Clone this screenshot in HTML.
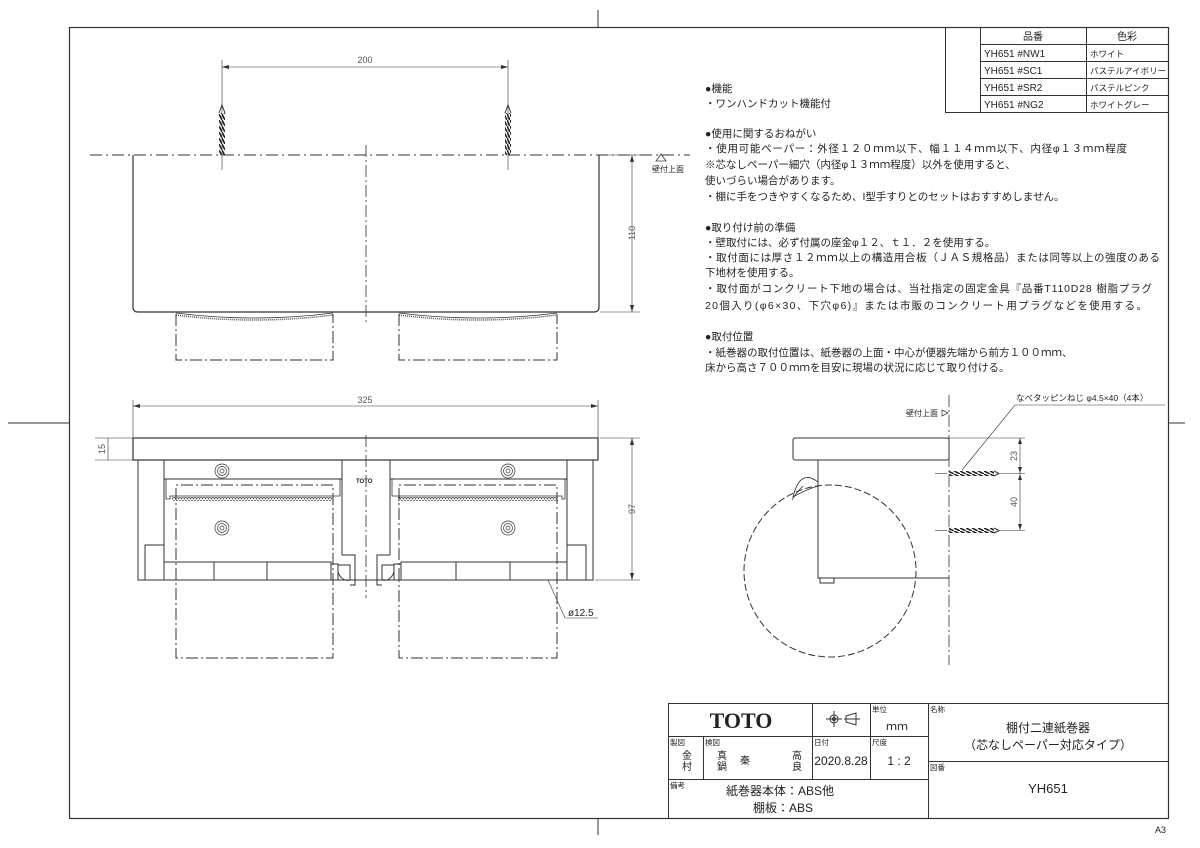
<!DOCTYPE html>
<html><head><meta charset="utf-8"><style>
html,body{margin:0;padding:0;background:#fff;}
svg{display:block;}
text{font-family:"Liberation Sans","Noto Sans CJK JP",sans-serif;fill:#222;}
</style></head><body>
<svg width="1200" height="848" viewBox="0 0 1200 848" xmlns="http://www.w3.org/2000/svg">
<defs>
<pattern id="thr" width="6" height="3" patternUnits="userSpaceOnUse"><path d="M0 0 L6 3" stroke="#222" stroke-width="1.6"/></pattern>
<pattern id="thv" width="3" height="6" patternUnits="userSpaceOnUse"><path d="M0 0 L3 6" stroke="#222" stroke-width="1.6"/></pattern>
<pattern id="ser" width="3" height="4" patternUnits="userSpaceOnUse"><path d="M0 0 L1.5 3 L3 0" stroke="#444" stroke-width="0.8" fill="none"/></pattern>
</defs>
<g fill="none" stroke="#333" stroke-width="1">
<!-- frame -->
<rect x="69.5" y="27.5" width="1099" height="791" stroke-width="1.2"/>
<line x1="598" y1="10" x2="598" y2="27"/><line x1="598" y1="818" x2="598" y2="835"/>
<line x1="8" y1="423" x2="69" y2="423"/><line x1="1168" y1="423" x2="1185" y2="423"/>
<!-- table -->
<rect x="945.5" y="27.5" width="223" height="85"/>
<line x1="980.5" y1="27" x2="980.5" y2="112"/><line x1="1086.5" y1="27" x2="1086.5" y2="112"/>
<line x1="980" y1="44.5" x2="1168" y2="44.5"/><line x1="980" y1="61.5" x2="1168" y2="61.5"/>
<line x1="980" y1="78.5" x2="1168" y2="78.5"/><line x1="980" y1="95.5" x2="1168" y2="95.5"/>
<!-- title block -->
<rect x="668.5" y="703.5" width="500" height="115"/>
<line x1="668" y1="736.5" x2="928" y2="736.5"/><line x1="668" y1="779.5" x2="928" y2="779.5"/>
<line x1="928" y1="761.5" x2="1168" y2="761.5"/>
<line x1="928.5" y1="703" x2="928.5" y2="818"/>
<line x1="812.5" y1="703" x2="812.5" y2="779"/><line x1="870.5" y1="703" x2="870.5" y2="779"/>
<line x1="703.5" y1="736" x2="703.5" y2="779"/>
<!-- projection symbol -->
<circle cx="834" cy="719" r="4"/><circle cx="834" cy="719" r="1.5"/>
<line x1="826" y1="719" x2="842" y2="719"/><line x1="834" y1="711" x2="834" y2="727"/>
<path d="M846 716 L856 713 L856 725 L846 722 Z"/><line x1="844" y1="719" x2="860" y2="719"/>

<!-- TOP VIEW -->
<line x1="90" y1="155" x2="690" y2="155" stroke-dasharray="12,4,2,4"/>
<path d="M133 155 L133 307 Q133 312 138 312 L594 312 Q599 312 599 307 L599 155" stroke-width="1.2"/>
<line x1="366" y1="145" x2="366" y2="325" stroke-dasharray="12,3,2,3" stroke-width="0.8"/>
<rect x="219" y="113" width="6" height="42" fill="url(#thv)" stroke="none"/>
<rect x="505" y="113" width="6" height="42" fill="url(#thv)" stroke="none"/>
<path d="M219 113 L222 105 L225 113"/><path d="M505 113 L508 105 L511 113"/>
<line x1="222" y1="60" x2="222" y2="170" stroke-width="0.6"/><line x1="508" y1="60" x2="508" y2="170" stroke-width="0.6"/>
<line x1="222" y1="67" x2="508" y2="67" stroke-width="0.6"/>
<path d="M222 67 l7 -2 v4 z M508 67 l-7 -2 v4 z" fill="#333" stroke="none"/>
<path d="M176 313 Q254 323 333 313 M399 313 Q478 323 557 313" stroke-width="0.8"/>
<path d="M176 315 Q254 325 333 315 M399 315 Q478 325 557 315" stroke-dasharray="1,1" stroke-width="1.5" stroke="#555"/>
<path d="M176 314 V360 H333 V314 M399 314 V360 H557 V314" stroke-dasharray="12,3,2,3"/>
<line x1="600" y1="155" x2="640" y2="155" stroke-width="0.6"/><line x1="600" y1="312" x2="640" y2="312" stroke-width="0.6"/>
<line x1="632" y1="155" x2="632" y2="312" stroke-width="0.6"/>
<path d="M632 155 l-2 7 h4 z M632 312 l-2 -7 h4 z" fill="#333" stroke="none"/>
<path d="M661 154 L656 161 L666 161 Z" stroke-width="0.8"/>

<!-- FRONT VIEW -->
<line x1="133" y1="400" x2="133" y2="438" stroke-width="0.6"/><line x1="598" y1="400" x2="598" y2="438" stroke-width="0.6"/>
<line x1="133" y1="406" x2="598" y2="406" stroke-width="0.6"/>
<path d="M133 406 l7 -2 v4 z M598 406 l-7 -2 v4 z" fill="#333" stroke="none"/>
<rect x="133" y="438" width="465" height="22" stroke-width="1.2"/>
<line x1="95" y1="438" x2="133" y2="438" stroke-width="0.6"/><line x1="95" y1="460" x2="133" y2="460" stroke-width="0.6"/>
<line x1="108" y1="438" x2="108" y2="460" stroke-width="0.6"/>
<path d="M138 460 V580 H593 V460"/>
<line x1="600" y1="438" x2="640" y2="438" stroke-width="0.6"/><line x1="595" y1="580" x2="640" y2="580" stroke-width="0.6"/>
<line x1="632" y1="438" x2="632" y2="580" stroke-width="0.6"/>
<path d="M632 438 l-2 7 h4 z M632 580 l-2 -7 h4 z" fill="#333" stroke="none"/>
<line x1="366" y1="435" x2="366" y2="598" stroke-dasharray="12,3,2,3" stroke-width="0.8"/>
<!-- left holder -->
<path d="M164 460 V580 M342 460 V555 M390 460 V555 M567 460 V580"/>
<path d="M164 479 H342 M390 479 H567"/>
<path d="M166 479 V499 H170 V496 H340 V479 M392 479 V496 H562 V499 H565 V479" stroke-width="0.8"/>
<rect x="172" y="497" width="160" height="4" fill="url(#ser)" stroke="none"/>
<rect x="398" y="497" width="160" height="4" fill="url(#ser)" stroke="none"/>
<path d="M176 580 V485 H333 V658 H176 V580 M399 580 V485 H557 V658 H399 V580" stroke-dasharray="12,3,2,3"/>
<rect x="145" y="545" width="19" height="35"/><rect x="567" y="545" width="19" height="35"/>
<rect x="164" y="562" width="167" height="18"/><rect x="401" y="562" width="166" height="18"/>
<line x1="214" y1="562" x2="214" y2="580"/><line x1="267" y1="562" x2="267" y2="580"/>
<line x1="456" y1="562" x2="456" y2="580"/><line x1="510" y1="562" x2="510" y2="580"/>
<path d="M331 564 h7 v16 h-7 z M394 564 h7 v16 h-7 z"/>
<path d="M338 565 H350 V580 Q342 582 338 572 Z M394 565 H382 V580 Q390 582 394 572 Z"/>
<path d="M342 555 H355 V585 H350 M390 555 H377 V585 H382"/>
<g stroke-width="0.7">
<circle cx="222" cy="471" r="7"/><circle cx="222" cy="471" r="4.5"/><circle cx="222" cy="471" r="2"/>
<circle cx="222" cy="528" r="7"/><circle cx="222" cy="528" r="4.5"/><circle cx="222" cy="528" r="2"/>
<circle cx="508" cy="471" r="7"/><circle cx="508" cy="471" r="4.5"/><circle cx="508" cy="471" r="2"/>
<circle cx="508" cy="528" r="7"/><circle cx="508" cy="528" r="4.5"/><circle cx="508" cy="528" r="2"/>
</g>
<path d="M548 580 L565 618 H598" stroke-width="0.6"/>

<!-- SIDE VIEW -->
<line x1="949" y1="395" x2="949" y2="665" stroke-dasharray="12,3,2,3" stroke-width="0.8"/>
<rect x="793" y="438" width="156" height="22" rx="2"/>
<path d="M818 460 V578 H949"/>
<rect x="820" y="578" width="14" height="5"/>
<path d="M818 482 Q800 468 793 497 Q805 490 818 486" stroke-width="0.8"/>
<path d="M803 486 Q795 494 792 500" stroke-width="0.8"/>
<circle cx="830" cy="571" r="86" stroke-dasharray="7,3"/>
<rect x="949" y="471" width="45" height="5" fill="url(#thr)" stroke="none"/>
<rect x="949" y="528" width="45" height="5" fill="url(#thr)" stroke="none"/>
<path d="M994 471 L999 473.5 L994 476 M994 528 L999 530.5 L994 533"/>
<line x1="935" y1="473.5" x2="947" y2="473.5" stroke-width="0.6"/><line x1="935" y1="530.5" x2="947" y2="530.5" stroke-width="0.6"/>
<line x1="949" y1="438" x2="1025" y2="438" stroke-width="0.6"/>
<line x1="1000" y1="473.5" x2="1025" y2="473.5" stroke-width="0.6"/>
<line x1="1000" y1="530.5" x2="1025" y2="530.5" stroke-width="0.6"/>
<line x1="1020" y1="438" x2="1020" y2="530" stroke-width="0.6"/>
<path d="M1020 438 l-2 6 h4 z M1020 473 l-2 -6 h4 z M1020 474 l-2 6 h4 z M1020 530 l-2 -6 h4 z" fill="#333" stroke="none"/>
<path d="M962 470 L1015 405 H1165" stroke-width="0.6"/>
<path d="M942 410 L948 413 L942 416 Z" stroke-width="0.7"/>
</g>

<g font-size="8.5">
<text x="1033" y="40" text-anchor="middle" font-size="10">品番</text>
<text x="1127" y="40" text-anchor="middle" font-size="10">色彩</text>
<text x="984" y="57" font-size="10">YH651 #NW1</text><text x="1090" y="57">ホワイト</text>
<text x="984" y="74" font-size="10">YH651 #SC1</text><text x="1090" y="74">パステルアイボリー</text>
<text x="984" y="91" font-size="10">YH651 #SR2</text><text x="1090" y="91">パステルピンク</text>
<text x="984" y="108" font-size="10">YH651 #NG2</text><text x="1090" y="108">ホワイトグレー</text>
</g>
<g font-size="10.5">
<text x="705" y="92">●機能</text>
<text x="705" y="107">・ワンハンドカット機能付</text>
<text x="705" y="137">●使用に関するおねがい</text>
<text x="705" y="152" textLength="422">・使用可能ペーパー：外径１２０ｍｍ以下、幅１１４ｍｍ以下、内径φ１３ｍｍ程度</text>
<text x="705" y="168">※芯なしペーパー細穴（内径φ１３ｍｍ程度）以外を使用すると、</text>
<text x="705" y="184">使いづらい場合があります。</text>
<text x="705" y="200">・棚に手をつきやすくなるため、I型手すりとのセットはおすすめしません。</text>
<text x="705" y="231">●取り付け前の準備</text>
<text x="705" y="246">・壁取付には、必ず付属の座金φ１２、ｔ１．２を使用する。</text>
<text x="705" y="261" textLength="455">・取付面には厚さ１２ｍｍ以上の構造用合板（ＪＡＳ規格品）または同等以上の強度のある</text>
<text x="705" y="276">下地材を使用する。</text>
<text x="705" y="292" textLength="447">・取付面がコンクリート下地の場合は、当社指定の固定金具『品番T110D28 樹脂プラグ</text>
<text x="705" y="309" textLength="442">20個入り(φ6×30、下穴φ6)』または市販のコンクリート用プラグなどを使用する。</text>
<text x="705" y="340">●取付位置</text>
<text x="705" y="356">・紙巻器の取付位置は、紙巻器の上面・中心が便器先端から前方１００ｍｍ、</text>
<text x="705" y="371">床から高さ７００ｍｍを目安に現場の状況に応じて取り付ける。</text>
</g>
<g font-size="9" fill="#555">
<text x="365" y="63" text-anchor="middle" style="fill:#555">200</text>
<text x="365" y="403" text-anchor="middle" style="fill:#555">325</text>
<text transform="translate(635,233) rotate(-90)" text-anchor="middle" style="fill:#555">110</text>
<text transform="translate(635,509) rotate(-90)" text-anchor="middle" style="fill:#555">97</text>
<text transform="translate(105,449) rotate(-90)" text-anchor="middle" style="fill:#555">15</text>
<text transform="translate(1017,456) rotate(-90)" text-anchor="middle" style="fill:#555">23</text>
<text transform="translate(1017,502) rotate(-90)" text-anchor="middle" style="fill:#555">40</text>
</g>
<text x="568" y="616" font-size="10">ø12.5</text>
<text x="652" y="172" font-size="8">壁付上面</text>
<text x="906" y="416" font-size="8">壁付上面</text>
<text x="1016" y="401" font-size="8.5">なべタッピンねじ φ4.5×40（4本）</text>
<text x="356" y="483" font-size="6" font-weight="bold" font-family="Liberation Serif">TOTO</text>
<!-- title block text -->
<text x="741" y="728" font-size="22" font-weight="bold" text-anchor="middle" font-family="Liberation Serif" style="font-family:'Liberation Serif',serif">TOTO</text>
<g font-size="7.5">
<text x="872" y="712">単位</text><text x="930" y="712">名称</text>
<text x="670" y="745">製図</text><text x="705" y="745">検図</text>
<text x="814" y="745">日付</text><text x="872" y="745">尺度</text>
<text x="930" y="770">図番</text><text x="670" y="788">備考</text>
</g>
<text x="897" y="730" font-size="11" text-anchor="middle">ｍｍ</text>
<g font-size="10">
<text x="682" y="759">金</text><text x="682" y="770">村</text>
<text x="717" y="759">真</text><text x="717" y="770">鍋</text>
<text x="740" y="764">秦</text>
<text x="792" y="759">高</text><text x="792" y="770">良</text>
</g>
<text x="841" y="765" font-size="12" text-anchor="middle">2020.8.28</text>
<text x="899" y="765" font-size="12" text-anchor="middle">1 : 2</text>
<text x="1048" y="732" font-size="12" text-anchor="middle">棚付二連紙巻器</text>
<text x="1048" y="749" font-size="12" text-anchor="middle">（芯なしペーパー対応タイプ）</text>
<text x="1048" y="793" font-size="13" text-anchor="middle">YH651</text>
<text x="780" y="795" font-size="12" text-anchor="middle">紙巻器本体：ABS他</text>
<text x="783" y="812" font-size="12" text-anchor="middle">棚板：ABS</text>
<text x="1155" y="833" font-size="9">A3</text>
</svg>
</body></html>
